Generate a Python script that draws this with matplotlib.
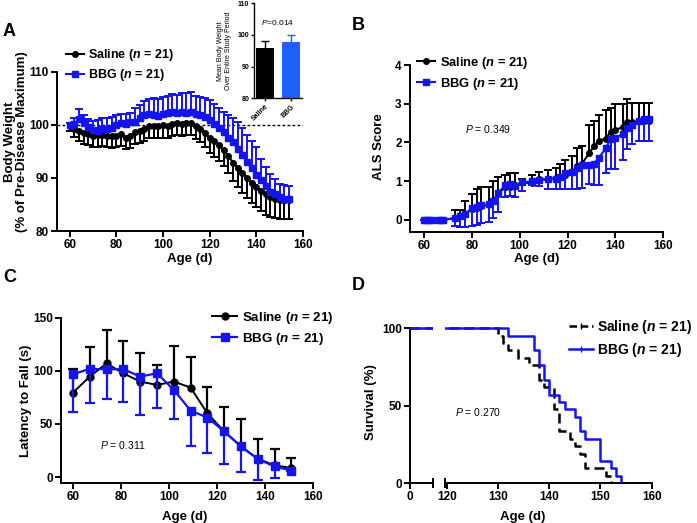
import numpy as np
import matplotlib
matplotlib.use("Agg")
import matplotlib.pyplot as plt
from matplotlib.lines import Line2D

# ---- data ----
# A: body weight (% of pre-disease max), every 2 days
bw_days = [60, 62, 64, 66, 68, 70, 72, 74, 76, 78, 80, 82, 84, 86, 88, 90,
           92, 94, 96, 98, 100, 102, 104, 106, 108, 110, 112, 114, 116, 118,
           120, 122, 124, 126, 128, 130, 132, 134, 136, 138, 140, 142, 144,
           146, 148, 150, 152, 154]
bw_saline = [99.8, 99.2, 98.8, 98.4, 98.2, 97.8, 98.0, 98.1, 97.9, 97.8, 97.9,
             98.2, 97.6, 97.8, 98.6, 98.8, 99.2, 99.7, 99.8, 99.7, 99.9, 99.8,
             100.2, 100.3, 100.1, 100.3, 100.4, 99.8, 99.2, 98.4, 97.5, 96.9,
             96.2, 95.2, 94.1, 92.9, 91.9, 90.9, 90.0, 89.0, 88.3, 87.6, 86.9,
             86.4, 86.0, 85.9, 85.8, 85.8]
bw_saline_err = [1.0, 1.5, 1.8, 2.0, 2.0, 2.0, 2.1, 2.1, 2.1, 2.1, 2.1, 2.2,
                 2.2, 2.2, 2.2, 2.2, 2.2, 2.2, 2.2, 2.2, 2.3, 2.3, 2.3, 2.3,
                 2.3, 2.3, 2.4, 2.4, 2.5, 2.6, 2.8, 2.9, 3.0, 3.0, 3.2, 3.5,
                 3.6, 3.8, 3.8, 3.8, 3.8, 3.8, 3.8, 3.8, 3.6, 3.6, 3.6, 3.6]
bw_bbg = [100.0, 100.1, 101.0, 100.3, 99.6, 99.0, 98.9, 99.3, 99.3, 99.4,
          100.0, 100.3, 100.2, 100.5, 100.6, 101.2, 101.8, 102.0, 101.8, 101.7,
          102.0, 102.3, 102.4, 102.2, 102.5, 102.3, 102.4, 102.0, 101.8, 101.5,
          100.9, 100.2, 99.4, 98.6, 97.6, 96.7, 95.5, 94.4, 93.0, 91.8, 90.6,
          89.6, 88.5, 87.4, 86.9, 86.4, 86.1, 86.0]
bw_bbg_err = [0.4, 1.2, 2.0, 1.6, 1.5, 1.7, 2.0, 2.0, 2.0, 2.0, 1.8, 1.8, 1.8,
              1.8, 2.6, 2.6, 2.6, 2.8, 3.2, 3.2, 3.2, 3.2, 3.4, 3.4, 3.4, 3.6,
              3.7, 3.5, 3.5, 3.5, 3.8, 3.8, 3.8, 3.8, 4.2, 4.6, 5.0, 5.0, 5.1,
              5.1, 5.2, 4.0, 3.6, 3.3, 2.8, 2.5, 2.5, 2.5]

# A inset: mean body weight over study period
inset_groups = ["Saline", "BBG"]
inset_mean = [96.0, 97.7]
inset_err = [2.0, 2.2]

# B: ALS score
als_days = [60, 61, 62, 63, 66, 67, 68, 73, 75, 77, 80, 82, 84, 87, 89, 91,
            94, 96, 98, 101, 105, 108, 112, 115, 117, 119, 122, 124, 126, 129,
            131, 133, 136, 138, 140, 143, 145, 147, 150, 152, 154]
als_saline = [0, 0, 0, 0, 0, 0, 0, 0.05, 0.1, 0.15, 0.28, 0.3, 0.35, 0.4, 0.5,
              0.68, 0.85, 0.85, 0.9, 0.97, 0.95, 1.05, 1.05, 1.08, 1.1, 1.15,
              1.25, 1.4, 1.45, 1.72, 1.9, 2.05, 2.1, 2.28, 2.32, 2.4, 2.52,
              2.52, 2.55, 2.55, 2.55]
als_saline_err = [0, 0, 0, 0, 0, 0, 0, 0.2, 0.15, 0.35, 0.4, 0.5, 0.5, 0.45,
                  0.5, 0.44, 0.3, 0.35, 0.3, 0.08, 0.2, 0.2, 0.25, 0.27, 0.35,
                  0.4, 0.4, 0.45, 0.45, 0.73, 0.65, 0.65, 0.75, 0.62, 0.68,
                  0.6, 0.6, 0.5, 0.47, 0.47, 0.47]
als_bbg = [0, 0, 0, 0, 0, 0, 0, 0.05, 0.1, 0.15, 0.3, 0.33, 0.38, 0.4, 0.5,
           0.7, 0.9, 0.92, 0.88, 0.97, 1.0, 1.02, 1.05, 1.07, 1.1, 1.22, 1.25,
           1.35, 1.43, 1.42, 1.45, 1.6, 1.85, 2.1, 2.12, 2.22, 2.38, 2.45,
           2.55, 2.6, 2.6]
als_bbg_err = [0, 0, 0, 0, 0, 0, 0, 0.2, 0.28, 0.32, 0.45, 0.45, 0.45, 0.45,
               0.45, 0.5, 0.3, 0.3, 0.28, 0.22, 0.1, 0.15, 0.25, 0.27, 0.3,
               0.42, 0.45, 0.55, 0.6, 0.5, 0.55, 0.7, 0.65, 0.78, 0.8, 0.67,
               0.55, 0.5, 0.5, 0.55, 0.55]

# C: rotarod latency to fall (s), weekly
rr_days = [60, 67, 74, 81, 88, 95, 102, 109, 116, 123, 130, 137, 144, 151]
rr_saline = [79.5, 94.6, 107, 97.6, 89.9, 86.7, 89.9, 84.2, 60, 42.9, 28.8,
             17.2, 11, 8.5]
rr_saline_err = [22, 28.2, 31.7, 30.4, 26.6, 18.8, 33.5, 29.2, 25.2, 23.5,
                 26, 18.8, 15.3, 9.4]
rr_bbg = [96.8, 101.8, 101.5, 101.5, 94.6, 97.7, 82, 62.6, 56, 42.9, 28.8,
          16.9, 10, 6]
rr_bbg_err = [35.1, 31.7, 28.2, 30.5, 36, 32.9, 27.5, 33.8, 33.5, 30.7, 24.1,
              20, 10.9, 0]

# D: survival, days of death and number of deaths
sv_saline_days = [130, 131, 132, 134, 136, 138, 139, 141, 142, 144, 145, 146,
                  147, 151, 152]
sv_saline_deaths = [1, 1, 1, 1, 1, 2, 1, 3, 3, 1, 1, 1, 2, 1, 1]
sv_bbg_days = [132, 137, 138, 139, 140, 142, 143, 145, 146, 147, 150, 152,
               153, 154]
sv_bbg_deaths = [1, 2, 2, 2, 2, 1, 1, 1, 2, 1, 3, 1, 1, 1]
n_mice = 21

# ---- style ----
plt.rcParams["font.family"] = "Liberation Sans"
plt.rcParams["font.weight"] = "bold"
plt.rcParams["axes.labelweight"] = "bold"
plt.rcParams["mathtext.fontset"] = "custom"
plt.rcParams["mathtext.it"] = "Liberation Sans:italic:bold"
plt.rcParams["mathtext.sf"] = "Liberation Sans:italic:regular"
plt.rcParams["axes.linewidth"] = 1.4

BLUE = "#1414f0"
W, H = 697, 523
fig = plt.figure(figsize=(6.97, 5.23), dpi=100)


def box(l, t, r, b):
    return [l / W, 1 - b / H, (r - l) / W, (b - t) / H]


def style(ax, size=8.5):
    ax.spines[["top", "right"]].set_visible(False)
    ax.tick_params(direction="out", length=4, width=1.4, labelsize=size,
                   pad=2)


def bold_ticks(ax):
    for t in ax.get_xticklabels() + ax.get_yticklabels():
        t.set_fontweight("bold")


def one_sided(ax, x, y, lo, hi, color, lw=1.4, cap=3, z=2):
    _, caps, _ = ax.errorbar(x, y, yerr=[lo, hi], fmt="none", ecolor=color,
                             elinewidth=lw, capsize=cap, capthick=lw,
                             zorder=z)
    for c in caps:
        if np.allclose(c.get_ydata(), y):
            c.set_visible(False)


def legend(ax, handles, labels, x, y, size=9, hl=1.4):
    ax.legend(handles, labels, loc="upper left",
              bbox_to_anchor=(x / W, 1 - y / H),
              bbox_transform=fig.transFigure, frameon=False, borderpad=0,
              borderaxespad=0, handlelength=hl, handletextpad=0.35,
              labelspacing=0.35, fontsize=size)


lab_sal = r"Saline ($\mathit{n}$ = 21)"
lab_bbg = r"BBG ($\mathit{n}$ = 21)"

# ---- A ----
axA = fig.add_axes(box(57, 71.7, 303, 231))
style(axA)
axA.axhline(100, color="k", lw=1, ls=(0, (2, 1.6)), zorder=1)
zeros = np.zeros(len(bw_days))
one_sided(axA, bw_days, bw_saline, bw_saline_err, zeros, "k")
hs, = axA.plot(bw_days, bw_saline, "-o", color="k", ms=4, lw=1.5, zorder=3)
one_sided(axA, bw_days, bw_bbg, zeros, bw_bbg_err, BLUE, z=4)
hb, = axA.plot(bw_days, bw_bbg, "-s", color=BLUE, ms=4.5, lw=1.5, zorder=5)
axA.set_xlim(54.5, 160)
axA.set_ylim(80, 110)
axA.set_xticks(range(60, 161, 20))
axA.set_yticks([80, 90, 100, 110])
bold_ticks(axA)
axA.set_xlabel("Age (d)", fontsize=9.5)
axA.set_ylabel("Body Weight\n(% of Pre-Disease Maximum)", fontsize=9.5,
               linespacing=1.0)
axA.xaxis.set_label_coords(0.54, -0.14)
axA.yaxis.set_label_coords(-0.118, 0.56)
legend(axA, [hs, hb], [lab_sal, lab_bbg], 66, 47, size=9)

# inset
axI = fig.add_axes(box(254, 3.3, 302, 98.3))
axI.spines[["top", "right"]].set_visible(False)
for s in axI.spines.values():
    s.set_linewidth(1.0)
axI.tick_params(direction="out", length=2.5, width=1.0, labelsize=5, pad=1)
xi = np.arange(len(inset_groups))
axI.bar(xi, inset_mean, width=0.72, color=["k", "#2060ff"])
for i, c in zip(xi, ["k", "#2060ff"]):
    one_sided(axI, [i], [inset_mean[i]], [0], [inset_err[i]], c, lw=1.0,
              cap=3)
axI.set_xlim(-0.42, 1.42)
axI.set_ylim(80, 110)
axI.set_yticks([80, 90, 100, 110])
axI.set_xticks(xi)
axI.set_xticklabels(inset_groups, rotation=45, ha="right",
                    rotation_mode="anchor", fontsize=5)
axI.set_ylabel("Mean Body Weight\nOver Entire Study Period", fontsize=5,
               fontweight="normal", linespacing=1.1)
axI.text(0.5, 104, r"$\mathsf{P}$=0.014", fontsize=6, fontweight="normal",
         ha="center", va="center")

# ---- B ----
axB = fig.add_axes(box(410, 65, 663.3, 232))
style(axB)
als_zero = np.zeros(len(als_days))
one_sided(axB, als_days, als_saline, als_zero, als_saline_err, "k")
hs, = axB.plot(als_days, als_saline, "-o", color="k", ms=4, lw=1.5, zorder=3)
one_sided(axB, als_days, als_bbg, als_bbg_err, als_zero, BLUE, z=4)
hb, = axB.plot(als_days, als_bbg, "-s", color=BLUE, ms=4.5, lw=1.5, zorder=5)
axB.set_xlim(54.2, 160)
axB.set_ylim(-0.31, 4)
axB.set_xticks(range(60, 161, 20))
axB.set_yticks(range(0, 5))
bold_ticks(axB)
axB.set_xlabel("Age (d)", fontsize=9.5)
axB.set_ylabel("ALS Score", fontsize=9.5)
axB.xaxis.set_label_coords(0.50, -0.128)
axB.yaxis.set_label_coords(-0.1, 0.51)
axB.text(77, 2.35, r"$\mathsf{P}$ = 0.349", fontsize=7.5, fontweight="normal",
         ha="left", va="center")
legend(axB, [hs, hb], [lab_sal, lab_bbg], 417, 55, size=9.3)

# ---- C ----
axC = fig.add_axes(box(61, 317.7, 313, 483))
style(axC)
rr_zero = np.zeros(len(rr_days))
one_sided(axC, rr_days, rr_saline, rr_zero, rr_saline_err, "k", lw=1.6,
          cap=3.5)
hs, = axC.plot(rr_days, rr_saline, "-o", color="k", ms=5, lw=1.4, zorder=3)
one_sided(axC, rr_days, rr_bbg, rr_bbg_err, rr_zero, BLUE, lw=1.6, cap=3.5,
          z=4)
hb, = axC.plot(rr_days, rr_bbg, "-s", color=BLUE, ms=5.5, lw=1.6, zorder=5)
axC.set_xlim(55, 160)
axC.set_ylim(-5.6, 150)
axC.set_xticks(range(60, 161, 20))
axC.set_yticks([0, 50, 100, 150])
bold_ticks(axC)
axC.set_xlabel("Age (d)", fontsize=9.5)
axC.set_ylabel("Latency to Fall (s)", fontsize=9.5)
axC.xaxis.set_label_coords(0.49, -0.17)
axC.yaxis.set_label_coords(-0.115, 0.50)
axC.text(71.3, 30, r"$\mathsf{P}$ = 0.311", fontsize=7.5, fontweight="normal",
         ha="left", va="center")
legend(axC, [hs, hb], [lab_sal, lab_bbg], 212, 310, size=9.6, hl=1.9)

# ---- D (broken x axis) ----
sal_t = [0] + sv_saline_days
sal_s = [100] + list(100 * (n_mice - np.cumsum(sv_saline_deaths)) / n_mice)
bbg_t = [0] + sv_bbg_days
bbg_s = [100] + list(100 * (n_mice - np.cumsum(sv_bbg_deaths)) / n_mice)

axD1 = fig.add_axes(box(410, 326.7, 433, 483))
axD2 = fig.add_axes(box(445, 326.7, 651.7, 483))
for ax in (axD1, axD2):
    style(ax)
    ax.step(sal_t, sal_s, where="post", color="k", lw=1.8,
            ls=(0, (4, 2)), zorder=3)
    ax.step(bbg_t, bbg_s, where="post", color=BLUE, lw=1.8, zorder=4)
    ax.set_ylim(0, 101)
    ax.spines["left"].set_bounds(0, 100)
    ax.plot([1 if ax is axD1 else 0], [0], marker="|", ms=7, mew=1.4,
            color="k", transform=ax.transAxes, clip_on=False)
axD1.set_xlim(0, 4.5)
axD1.set_xticks([0])
axD1.set_yticks([0, 50, 100])
axD2.set_xlim(119.67, 160)
axD2.set_xticks(range(120, 161, 10))
axD2.spines["left"].set_visible(False)
axD2.tick_params(axis="y", left=False, labelleft=False)
bold_ticks(axD1)
bold_ticks(axD2)
axD1.set_ylabel("Survival (%)", fontsize=9.5)
axD1.yaxis.set_label_coords(-1.43, 0.52)
axD2.set_xlabel("Age (d)", fontsize=9.5)
axD2.xaxis.set_label_coords(0.377, -0.18)
axD2.text(121.6, 45.6, r"$\mathsf{P}$ = 0.270", fontsize=7.5,
          fontweight="normal", ha="left", va="center")
hs = Line2D([], [], color="k", lw=1.8, ls=(0, (3, 1.5)), marker="|", ms=5)
hb = Line2D([], [], color=BLUE, lw=1.8, marker="|", ms=5)
legend(axD2, [hs, hb], [lab_sal, lab_bbg], 569, 318, size=10, hl=1.7)

# panel letters
for letter, x, y in [("A", 3, 32), ("B", 352, 25), ("C", 3, 277),
                     ("D", 352, 285)]:
    fig.text(x / W, 1 - y / H, letter, fontsize=13, fontweight="bold",
             va="center", ha="left")

fig.savefig("out.png", dpi=100)
